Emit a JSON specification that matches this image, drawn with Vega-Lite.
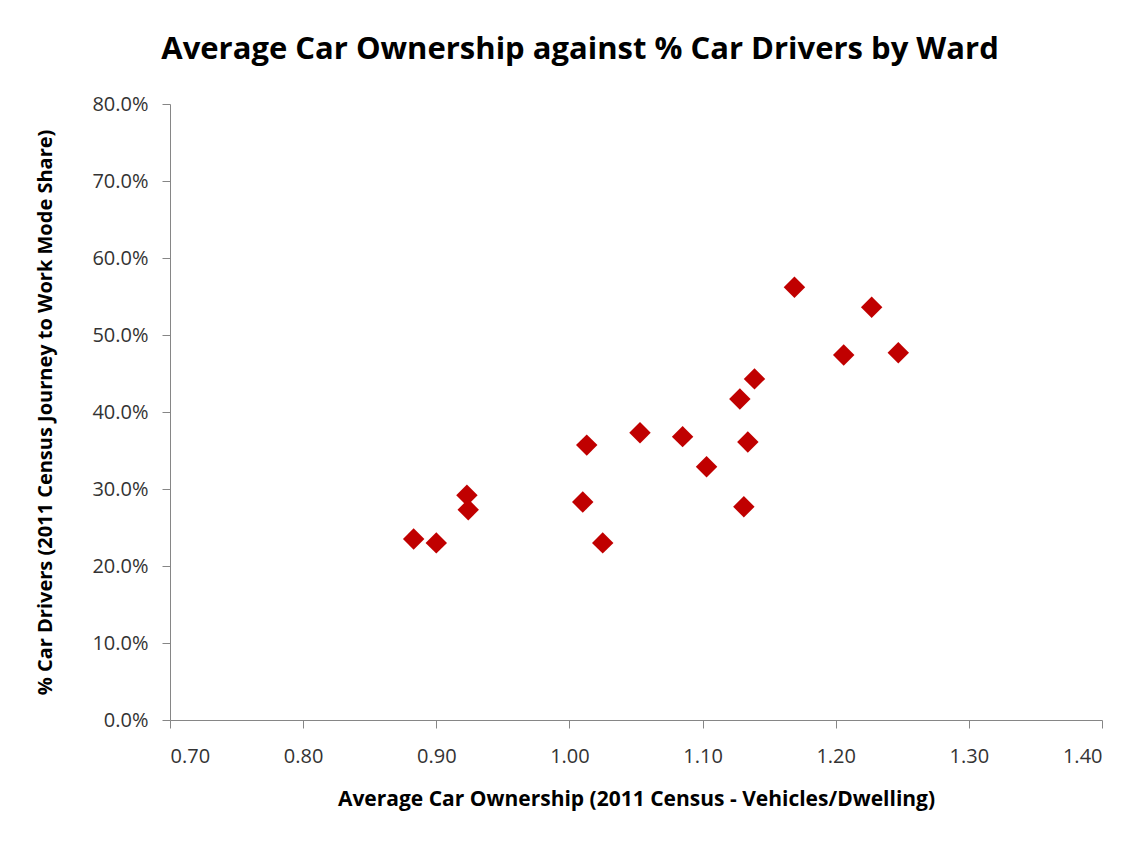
{
  "$schema": "https://vega.github.io/schema/vega-lite/v6.json",
  "autosize": {"type": "none"},
  "padding": {"left": 170, "top": 104, "right": 45, "bottom": 121},
  "width": 932,
  "height": 616,
  "background": "white",
  "title": {
    "text": "Average Car Ownership against % Car Drivers by Ward",
    "font": "Open Sans",
    "fontSize": 31,
    "fontWeight": "bold",
    "color": "#000000",
    "anchor": "middle",
    "dx": -56,
    "offset": 28
  },
  "data": {
    "values": [
      {"ownership": 0.883, "drivers": 0.235},
      {"ownership": 0.900, "drivers": 0.230},
      {"ownership": 0.923, "drivers": 0.292},
      {"ownership": 0.924, "drivers": 0.273},
      {"ownership": 1.010, "drivers": 0.283},
      {"ownership": 1.025, "drivers": 0.230},
      {"ownership": 1.013, "drivers": 0.357},
      {"ownership": 1.053, "drivers": 0.373},
      {"ownership": 1.085, "drivers": 0.368},
      {"ownership": 1.134, "drivers": 0.361},
      {"ownership": 1.103, "drivers": 0.329},
      {"ownership": 1.131, "drivers": 0.277},
      {"ownership": 1.169, "drivers": 0.562},
      {"ownership": 1.227, "drivers": 0.536},
      {"ownership": 1.206, "drivers": 0.474},
      {"ownership": 1.247, "drivers": 0.477},
      {"ownership": 1.139, "drivers": 0.443},
      {"ownership": 1.128, "drivers": 0.417}
    ]
  },
  "mark": {"type": "point", "shape": "diamond", "filled": true, "size": 460, "color": "#C00000", "opacity": 1},
  "encoding": {
    "x": {
      "field": "ownership",
      "type": "quantitative",
      "scale": {"domain": [0.7, 1.4], "nice": false, "zero": false},
      "axis": {
        "title": "Average Car Ownership (2011 Census - Vehicles/Dwelling)",
        "values": [0.7, 0.8, 0.9, 1.0, 1.1, 1.2, 1.3, 1.4],
        "format": ".2f",
        "grid": false,
        "domainColor": "#868686",
        "tickColor": "#868686",
        "tickSize": 8,
        "labelFont": "Open Sans",
        "labelFontSize": 20,
        "labelColor": "#333333",
        "labelPadding": 18,
        "titleFont": "Open Sans",
        "titleFontSize": 21,
        "titleFontWeight": "bold",
        "titleColor": "#000000",
        "titlePadding": 22
      }
    },
    "y": {
      "field": "drivers",
      "type": "quantitative",
      "scale": {"domain": [0, 0.8], "nice": false},
      "axis": {
        "title": "% Car Drivers (2011 Census Journey to Work Mode Share)",
        "values": [0, 0.1, 0.2, 0.3, 0.4, 0.5, 0.6, 0.7, 0.8],
        "format": ".1%",
        "grid": false,
        "domainColor": "#868686",
        "tickColor": "#868686",
        "tickSize": 8,
        "labelFont": "Open Sans",
        "labelFontSize": 20,
        "labelColor": "#333333",
        "labelPadding": 14,
        "titleFont": "Open Sans",
        "titleFontSize": 20,
        "titleFontWeight": "bold",
        "titleColor": "#000000",
        "titlePadding": 36
      }
    }
  },
  "config": {"view": {"stroke": null}}
}
